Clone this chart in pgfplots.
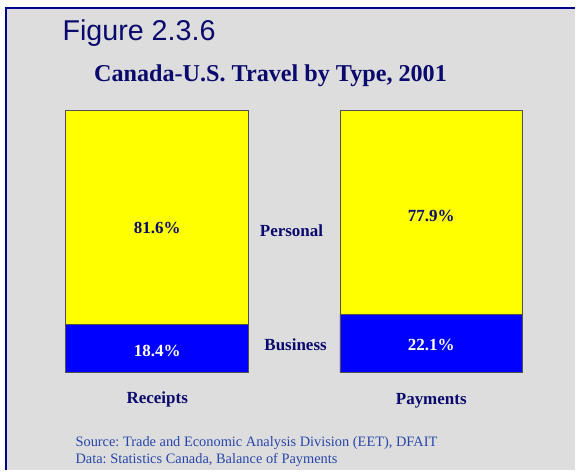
\documentclass[border=0pt]{standalone}
\usepackage{pgfplots}
\pgfplotsset{compat=1.18}
\usepackage{fontspec}
\setmainfont{Liberation Serif}
\newfontfamily\arial{Liberation Sans}
\frenchspacing
\definecolor{bggray}{RGB}{221,221,221}
\definecolor{navytext}{RGB}{10,10,110}
\definecolor{framecol}{RGB}{0,0,140}
\definecolor{srcblue}{RGB}{40,70,170}
\definecolor{barblue}{RGB}{0,0,255}
\definecolor{baryellow}{RGB}{255,255,0}
\definecolor{edgecol}{RGB}{80,80,80}
\tikzset{lbl/.style={anchor=base, inner sep=0pt, font=\fontsize{17}{20}\selectfont\bfseries}}
\begin{document}
\begin{tikzpicture}[x=1pt,y=1pt]
\fill[white] (0,0) rectangle (576,471);
\fill[bggray] (6,0) rectangle (576,463.3);
\draw[framecol, line width=2pt] (6,0) -- (6,463.3) -- (576,463.3);
\node[anchor=base west, inner sep=0pt, text=navytext, font=\arial\fontsize{28.7}{32}\selectfont] at (62.5,430.3) {Figure 2.3.6};
\node[anchor=base, inner sep=0pt, text=navytext, font=\fontsize{24.2}{29}\selectfont\bfseries] at (271,389.3) {Canada-U.S. Travel by Type, 2001};
\node[anchor=base west, inner sep=0pt, text=srcblue, font=\fontsize{14.4}{17}\selectfont] at (75.5,24) {Source: Trade and Economic Analysis Division (EET), DFAIT};
\node[anchor=base west, inner sep=0pt, text=srcblue, font=\fontsize{14.4}{17}\selectfont] at (75.5,7) {Data: Statistics Canada, Balance of Payments};
\begin{axis}[
  at={(40pt,97.7pt)}, anchor=south west,
  scale only axis, width=510pt, height=263pt,
  xmin=-0.42805, xmax=1.42987, ymin=0, ymax=100,
  hide axis, clip=false,
  ybar stacked, bar width=183pt,
]
\addplot[fill=barblue, draw=edgecol, line width=0.8pt] coordinates {(0,18.4) (1,22.1)};
\addplot[fill=baryellow, draw=edgecol, line width=0.8pt] coordinates {(0,81.6) (1,77.9)};
\coordinate (p1) at (axis cs:0,52.85);
\coordinate (p2) at (axis cs:1,57.64);
\coordinate (b1) at (axis cs:0,6.31);
\coordinate (b2) at (axis cs:1,8.48);
\coordinate (lp) at (axis cs:0.49,51.71);
\coordinate (lb) at (axis cs:0.505,8.48);
\coordinate (c1) at (axis cs:0,-11.79);
\coordinate (c2) at (axis cs:1,-12.17);
\end{axis}
\node[lbl, text=navytext] at (p1) {81.6\%};
\node[lbl, text=navytext] at (p2) {77.9\%};
\node[lbl, text=white] at (b1) {18.4\%};
\node[lbl, text=white] at (b2) {22.1\%};
\node[lbl, text=navytext] at (lp) {Personal};
\node[lbl, text=navytext] at (lb) {Business};
\node[lbl, text=navytext] at (c1) {Receipts};
\node[lbl, text=navytext] at (c2) {Payments};
\end{tikzpicture}
\end{document}
